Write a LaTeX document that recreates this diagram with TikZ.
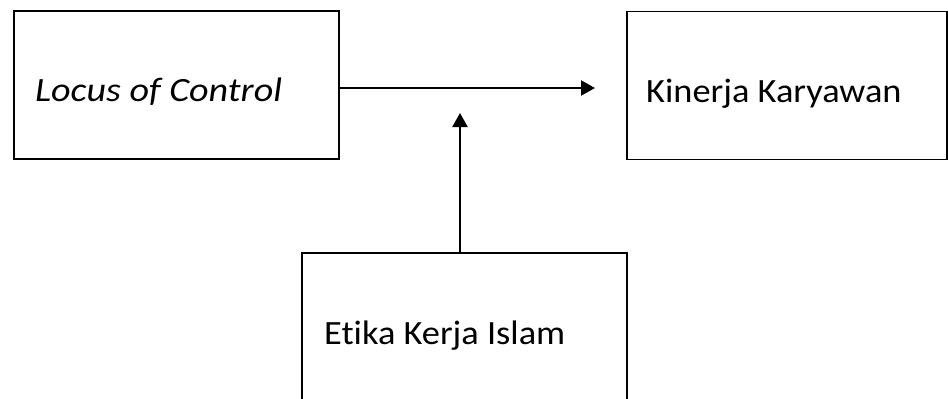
\documentclass[tikz,border=0pt]{standalone}
\usepackage{fontspec}
\setmainfont{Carlito}[FakeStretch=1.07, Ligatures=NoCommon, ItalicFeatures={FakeStretch=1.12}]
\usetikzlibrary{arrows.meta}
\tikzset{
  boxnode/.style={draw=black, line width=1.5pt, minimum width=#1, inner sep=0pt},
  lbl/.style={anchor=base west, inner sep=0pt, font=\fontsize{34}{40}\selectfont},
  arr/.style={line width=2.2pt, -{Triangle[length=14pt,width=15pt]}}
}
\begin{document}
\begin{tikzpicture}[x=1pt,y=-1pt]
\useasboundingbox (0,0) rectangle (948,399);
\clip (0,0) rectangle (948,399);
\node[boxnode=325pt, minimum height=148pt] (loc) at (176.5,85) {};
\node[boxnode=320pt, minimum height=148pt] (kin) at (787,85.5) {};
\node[boxnode=325pt, minimum height=160pt] (eti) at (464.5,333) {};
\node[lbl] (tloc) at (35,101) {\itshape Locus of Control};
\node[lbl] (tkin) at (646,102) {Kinerja Karyawan};
\node[lbl] (teti) at (324,344) {Etika Kerja Islam};
\coordinate (h1) at (595,88);
\coordinate (v1) at (460,113);
\draw[arr] (loc.east |- h1) -- (h1);
\draw[arr] (v1 |- eti.north) -- (v1);
\end{tikzpicture}
\end{document}
